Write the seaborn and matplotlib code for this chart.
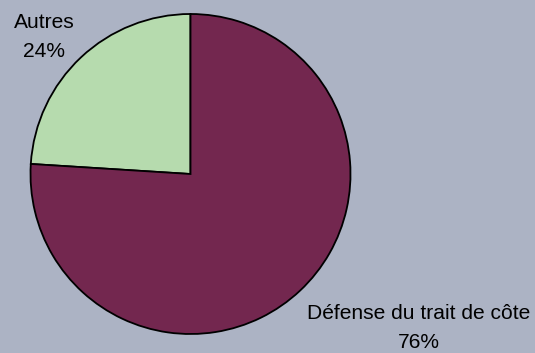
import matplotlib
matplotlib.use("Agg")
import matplotlib.pyplot as plt
import seaborn as sns

categories = ["Défense du trait de côte", "Autres"]
values = [76, 24]
pct_labels = ["76%", "24%"]
colors = ["#73274f", "#b6dbae"]

sns.set_theme(style="white")
plt.rcParams["font.family"] = ["Liberation Sans", "DejaVu Sans"]

W, H = 535, 353
fig = plt.figure(figsize=(W / 100, H / 100), dpi=100)
bg = "#acb3c4"
fig.patch.set_facecolor(bg)
ax = fig.add_axes([0, 0, 1, 1])
ax.set_facecolor(bg)

cx, cy, r = 190.5, H - 174, 160
wedges, _ = ax.pie(
    values[::-1], colors=colors[::-1], startangle=90, counterclock=True,
    center=(cx, cy), radius=r, frame=True,
    wedgeprops=dict(edgecolor="black", linewidth=1.3),
)
ax.set_xlim(0, W)
ax.set_ylim(0, H)
ax.set_aspect("equal")
ax.axis("off")

fs = 15.1
kw = dict(ha="center", va="baseline", fontsize=fs, color="black")
ax.text(44.5, H - 28.3, categories[1], **kw)
ax.text(44.5, H - 57.3, pct_labels[1], **kw)
ax.text(418.8, H - 319.0, categories[0], **kw)
ax.text(418.8, H - 348.3, pct_labels[0], **kw)

fig.savefig("out.png", dpi=100, facecolor=bg)
